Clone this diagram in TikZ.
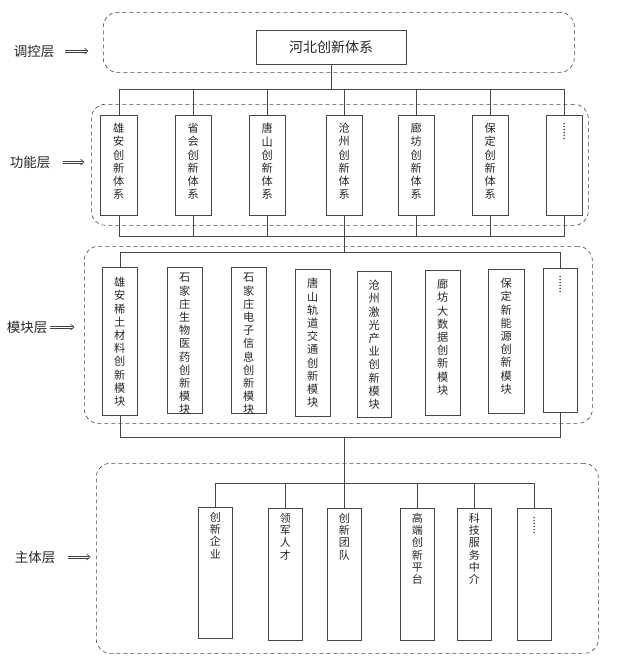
\documentclass[tikz,border=0pt]{standalone}
\usepackage{fontspec}
\setmainfont{Noto Sans CJK SC}
\usetikzlibrary{arrows.meta}
\newcommand{\vcol}[4]{\parbox[c][#1pt][t]{#2pt}{\centering\vspace*{#3pt}#4}}
\newcommand{\mydots}{\rotatebox{-90}{......}}
\newcommand{\darr}[2]{%
  \draw[arrl] ([yshift=1pt]#1) -- ([xshift=-1.5pt,yshift=1pt]#2);
  \draw[arrl] ([yshift=-1pt]#1) -- ([xshift=-1.5pt,yshift=-1pt]#2);
  \draw[arrl, line join=miter] ([xshift=-3.5pt,yshift=3pt]#2) -- (#2) -- ([xshift=-3.5pt,yshift=-3pt]#2);}
\begin{document}
\begin{tikzpicture}[x=1pt,y=-1pt,
  ln/.style={draw=black!72, line width=0.6pt},
  layer/.style={draw=black!72, line width=0.6pt, dash pattern=on 4pt off 3pt, rounded corners=14pt, inner sep=0pt, anchor=north west},
  colbox/.style={draw=black!72, line width=0.6pt, inner sep=0pt, anchor=north west, text=black!85, font=\fontsize{11.2}{13.2}\selectfont},
  subbox/.style={colbox, font=\fontsize{11}{12.2}\selectfont},
  lbl/.style={font=\fontsize{13.5}{16}\selectfont, text=black!85, inner sep=0pt},
  arrl/.style={draw=black!75, line width=0.6pt}]

\useasboundingbox (0,0) rectangle (621,667);

% layers
\node[layer, minimum width=471pt, minimum height=60pt] (Ltop) at (103,12) {};
\node[layer, minimum width=497pt, minimum height=121pt] (Lfun) at (91,104) {};
\node[layer, minimum width=508pt, minimum height=177pt] (Lmod) at (84,246) {};
\node[layer, minimum width=502pt, minimum height=190pt] (Lsub) at (96,463) {};

% layer labels
\node[lbl] (l1) at (34,51) {调控层};
\node[lbl] (l2) at (30,162) {功能层};
\node[lbl] (l3) at (27,327) {模块层};
\node[lbl] (l4) at (35,557) {主体层};
\coordinate (a1s) at ([xshift=11pt]l1.east);
\coordinate (a1e) at ([xshift=-15pt]l1.east -| Ltop.west);
\coordinate (a2s) at ([xshift=13pt]l2.east);
\coordinate (a2e) at ([xshift=-7pt]l2.east -| Lfun.west);
\coordinate (a3s) at ([xshift=3pt]l3.east);
\coordinate (a3e) at ([xshift=-10pt]l3.east -| Lmod.west);
\coordinate (a4s) at ([xshift=13pt]l4.east);
\coordinate (a4e) at ([xshift=-6pt]l4.east -| Lsub.west);
\darr{a1s}{a1e}
\darr{a2s}{a2e}
\darr{a3s}{a3e}
\darr{a4s}{a4e}

% title
\node[draw=black!72, line width=0.6pt, minimum width=150pt, minimum height=34pt, inner sep=0pt, text=black!85, font=\fontsize{14}{16}\selectfont] (title) at (331,47) {河北创新体系};

% function layer
\node[colbox] (f1) at (100,115) {\vcol{100}{37}{8}{雄\\安\\创\\新\\体\\系}};
\node[colbox] (f2) at (175,115) {\vcol{100}{36}{8}{省\\会\\创\\新\\体\\系}};
\node[colbox] (f3) at (249,115) {\vcol{100}{36}{8}{唐\\山\\创\\新\\体\\系}};
\node[colbox] (f4) at (326,115) {\vcol{100}{36}{8}{沧\\州\\创\\新\\体\\系}};
\node[colbox] (f5) at (398,115) {\vcol{100}{36}{8}{廊\\坊\\创\\新\\体\\系}};
\node[colbox] (f6) at (472,115) {\vcol{100}{36}{8}{保\\定\\创\\新\\体\\系}};
\node[colbox] (f7) at (546,115) {\vcol{100}{36}{7}{\mydots}};

% module layer
\node[colbox] (m1) at (102,267) {\vcol{148}{35}{10}{雄\\安\\稀\\土\\材\\料\\创\\新\\模\\块}};
\node[colbox] (m2) at (167,267) {\vcol{146}{35}{6}{石\\家\\庄\\生\\物\\医\\药\\创\\新\\模\\块}};
\node[colbox] (m3) at (231,267) {\vcol{146}{35}{6}{石\\家\\庄\\电\\子\\信\\息\\创\\新\\模\\块}};
\node[colbox] (m4) at (295,269) {\vcol{147}{35}{9}{唐\\山\\轨\\道\\交\\通\\创\\新\\模\\块}};
\node[colbox] (m5) at (357,271) {\vcol{146}{34}{9}{沧\\州\\激\\光\\产\\业\\创\\新\\模\\块}};
\node[colbox] (m6) at (425,270) {\vcol{145}{35}{9}{廊\\坊\\大\\数\\据\\创\\新\\模\\块}};
\node[colbox] (m7) at (488,269) {\vcol{144}{36}{9}{保\\定\\新\\能\\源\\创\\新\\模\\块}};
\node[colbox] (m8) at (543,268) {\vcol{144}{34}{7}{\mydots}};

% subject layer
\node[subbox] (s1) at (198,507) {\vcol{131}{34}{5}{创\\新\\企\\业}};
\node[subbox] (s2) at (268,508) {\vcol{132}{34}{5}{领\\军\\人\\才}};
\node[subbox] (s3) at (327,508) {\vcol{132}{34}{5}{创\\新\\团\\队}};
\node[subbox] (s4) at (400,508) {\vcol{132}{34}{5}{高\\端\\创\\新\\平\\台}};
\node[subbox] (s5) at (457,508) {\vcol{132}{34}{5}{科\\技\\服\\务\\中\\介}};
\node[subbox] (s6) at (517,508) {\vcol{132}{34}{8}{\mydots}};

% bus levels
\coordinate (tb) at (0,89);
\coordinate (fb) at (0,236);
\coordinate (mt) at (0,252);
\coordinate (mb) at (0,437);
\coordinate (sb) at (0,483);

% top -> function
\draw[ln] (title.south) -- (title.south |- tb);
\draw[ln] (f1.north) -- (f1.north |- tb) -- (f7.north |- tb) -- (f7.north);
\foreach \i in {2,...,6} \draw[ln] (f\i.north) -- (f\i.north |- tb);

% function -> module
\draw[ln] (f1.south) -- (f1.south |- fb) -- (f7.south |- fb) -- (f7.south);
\foreach \i in {2,...,6} \draw[ln] (f\i.south) -- (f\i.south |- fb);
\draw[ln] (f4.south |- fb) -- (f4.south |- mt);
\draw[ln] (m1.north) -- (m1.north |- mt) -- (m8.north |- mt) -- (m8.north);

% module -> subject
\draw[ln] (m1.south) -- (m1.south |- mb) -- (m8.south |- mb) -- (m8.south);
\draw[ln] (s3.north |- mb) -- (s3.north);
\draw[ln] (s1.north) -- (s1.north |- sb) -- (s6.north |- sb) -- (s6.north);
\foreach \i in {2,4,5} \draw[ln] (s\i.north) -- (s\i.north |- sb);
\end{tikzpicture}
\end{document}
